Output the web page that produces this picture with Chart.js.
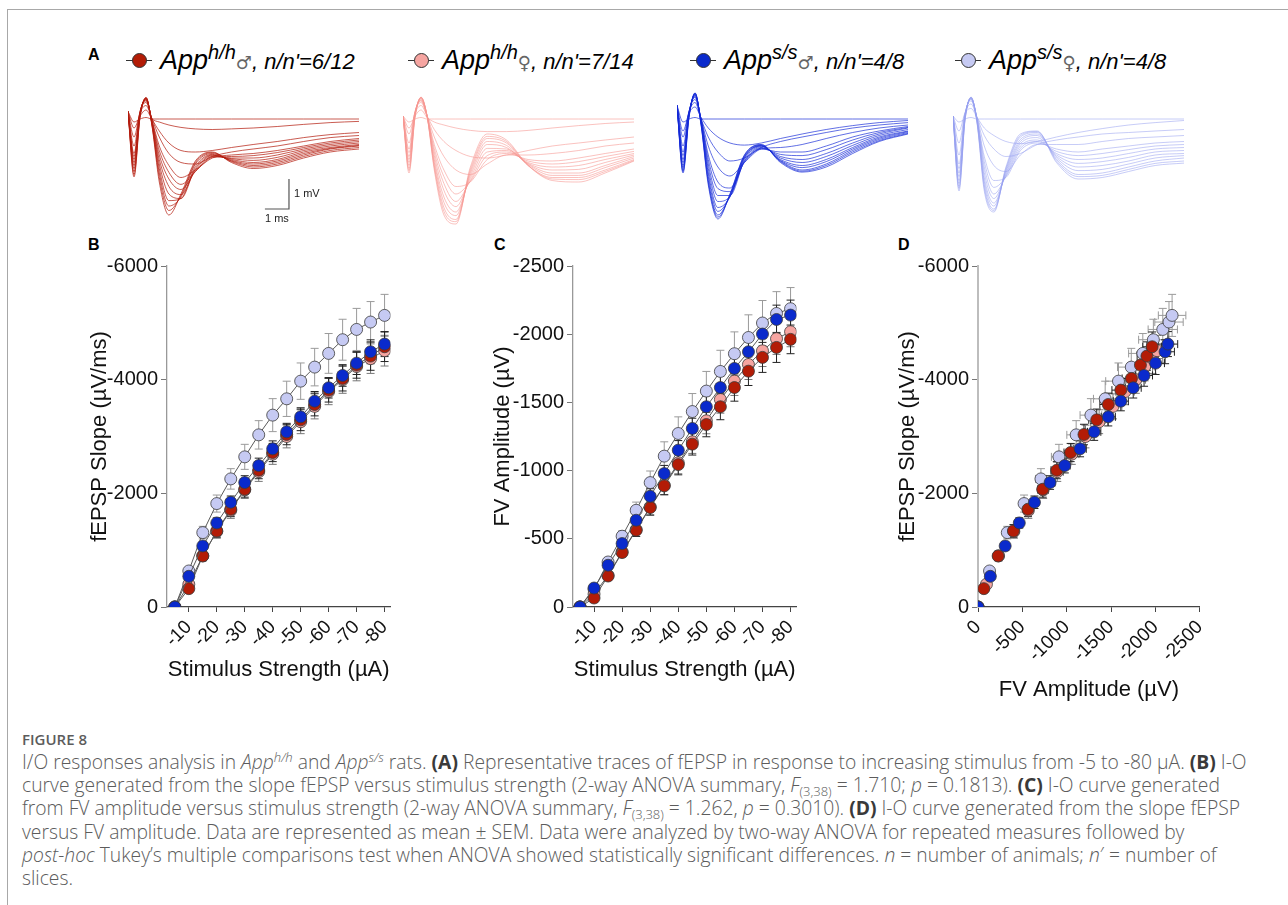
<!DOCTYPE html>
<html>
<head>
<meta charset="utf-8">
<title>Figure 8 - I/O responses in App rats</title>
<script src="https://cdn.jsdelivr.net/npm/chart.js"></script>
<style>
  body { margin: 0; background: #fff; width: 1288px; height: 905px; position: relative; overflow: hidden;
         font-family: "Liberation Sans", Arial, sans-serif; }
  .frame { position: absolute; left: 7px; top: 9px; right: -2px; bottom: -2px; border-top: 1px solid #a8a8a8; border-left: 1px solid #a8a8a8; }
  canvas { position: absolute; }
  .letter { position: absolute; font-weight: bold; font-size: 16px; color: #000; line-height: 16px; }
  .leg { position: absolute; top: 44px; height: 34px; white-space: nowrap; }
  .leg .ln { position: absolute; left: 0; top: 16px; width: 26px; height: 1px; background: #333; }
  .leg .dot { position: absolute; left: 6px; top: 9px; width: 13px; height: 13px; border-radius: 50%; border: 1px solid #333; }
  .leg .txt { position: absolute; left: 34px; top: 3px; line-height: 27px; font-style: italic; color: #000; }
  .leg .app { font-size: 27px; }
  .leg .sup { font-size: 20px; position: relative; top: -10px; }
  .leg .sex { font-family: "DejaVu Sans", sans-serif; font-style: normal; font-size: 18px; color: #666; }
  .leg .nn { font-size: 22px; }
  .caption { position: absolute; left: 22px; top: 728px; font-family: "Open Sans", "Noto Sans", sans-serif; color: #5c5c5c; }
  .caption .head { font-size: 15px; font-weight: 600; color: #5c5c5c; line-height: 22px; }
  .caption .body { font-size: 19.3px; line-height: 23.2px; white-space: nowrap; font-weight: 300; }
  .caption b { font-weight: 700; color: #3a3a3a; }
  .caption sub { font-size: 13px; vertical-align: -4px; line-height: 0; }
  .caption sup { font-size: 13px; vertical-align: 7px; line-height: 0; }
</style>
</head>
<body>
<div class="frame"></div>

<div class="letter" style="left:88px; top:47px;">A</div>
<div class="letter" style="left:88px; top:237px;">B</div>
<div class="letter" style="left:494px; top:237px;">C</div>
<div class="letter" style="left:898px; top:237px;">D</div>

<!-- legend row -->
<div class="leg" style="left:126px;"><span class="ln"></span><span class="dot" style="background:#b31c06;"></span>
  <span class="txt"><span class="app">App</span><span class="sup">h/h</span><span class="sex">♂</span><span class="nn">, n/n'=6/12</span></span></div>
<div class="leg" style="left:408px;"><span class="ln"></span><span class="dot" style="background:#f6a5a1;"></span>
  <span class="txt"><span class="app">App</span><span class="sup">h/h</span><span class="sex">♀</span><span class="nn">, n/n'=7/14</span></span></div>
<div class="leg" style="left:690px;"><span class="ln"></span><span class="dot" style="background:#0a2acc;"></span>
  <span class="txt"><span class="app">App</span><span class="sup">s/s</span><span class="sex">♂</span><span class="nn">, n/n'=4/8</span></span></div>
<div class="leg" style="left:955px;"><span class="ln"></span><span class="dot" style="background:#c6caf3;"></span>
  <span class="txt"><span class="app">App</span><span class="sup">s/s</span><span class="sex">♀</span><span class="nn">, n/n'=4/8</span></span></div>

<!-- representative traces -->
<canvas id="traceHHm" width="231" height="138" style="left:128px; top:89px;"></canvas>
<canvas id="traceHHf" width="231" height="138" style="left:403px; top:89px;"></canvas>
<canvas id="traceSSm" width="231" height="138" style="left:677px; top:89px;"></canvas>
<canvas id="traceSSf" width="231" height="138" style="left:953px; top:89px;"></canvas>

<!-- I-O curves -->
<canvas id="chartB" width="338" height="445" style="left:67px; top:250px;"></canvas>
<canvas id="chartC" width="338" height="445" style="left:473px; top:250px;"></canvas>
<canvas id="chartD" width="342" height="465" style="left:878px; top:250px;"></canvas>

<div class="caption">
  <div class="head">FIGURE 8</div>
  <div class="body">
I/O responses analysis in <i>App</i><sup><i>h/h</i></sup> and <i>App</i><sup><i>s/s</i></sup> rats. <b>(A)</b> Representative traces of fEPSP in response to increasing stimulus from -5 to -80 µA. <b>(B)</b> I-O<br>
curve generated from the slope fEPSP versus stimulus strength (2-way ANOVA summary, <i>F</i><sub>(3,38)</sub> = 1.710; <i>p</i> = 0.1813). <b>(C)</b> I-O curve generated<br>
from FV amplitude versus stimulus strength (2-way ANOVA summary, <i>F</i><sub>(3,38)</sub> = 1.262, <i>p</i> = 0.3010). <b>(D)</b> I-O curve generated from the slope fEPSP<br>
versus FV amplitude. Data are represented as mean ± SEM. Data were analyzed by two-way ANOVA for repeated measures followed by<br>
<i>post-hoc</i> Tukey’s multiple comparisons test when ANOVA showed statistically significant differences. <i>n</i> = number of animals; <i>n</i>′ = number of<br>
slices.
  </div>
</div>

<script>
// stimulus strengths (µA) and tick labels
const stimulus = [-5, -10, -15, -20, -25, -30, -35, -40, -45, -50, -55, -60, -65, -70, -75, -80];
const stimTicks = [-10, -20, -30, -40, -50, -60, -70, -80];
const slopeTicks = [0, -2000, -4000, -6000];
const fvTicks = [0, -500, -1000, -1500, -2000, -2500];

// fEPSP slope (µV/ms), mean and SEM
const slopeHHm = [0, -323, -898, -1338, -1720, -2072, -2407, -2718, -3035, -3293, -3563, -3816, -4021, -4256, -4415, -4579];
const slopeHHf = [0, -400, -900, -1330, -1700, -2060, -2380, -2690, -3000, -3260, -3530, -3790, -4000, -4230, -4370, -4510];
const slopeSSm = [0, -540, -1074, -1479, -1843, -2190, -2489, -2783, -3082, -3346, -3622, -3857, -4074, -4291, -4491, -4626];
const slopeSSf = [0, -634, -1309, -1820, -2254, -2642, -3029, -3376, -3663, -3974, -4221, -4462, -4703, -4884, -5014, -5131];
const slopeHHmSem = [0, 50, 80, 110, 130, 140, 150, 160, 180, 190, 200, 210, 220, 230, 250, 260];
const slopeHHfSem = [0, 60, 90, 120, 140, 150, 170, 180, 200, 210, 220, 230, 240, 250, 260, 270];
const slopeSSmSem = [0, 40, 70, 90, 110, 120, 130, 140, 150, 160, 170, 180, 190, 200, 210, 220];
const slopeSSfSem = [0, 60, 110, 150, 180, 220, 250, 290, 310, 320, 330, 350, 360, 370, 360, 370];

// FV amplitude (µV), mean and SEM
const fvHHm = [0, -66, -227, -399, -563, -729, -888, -1044, -1194, -1338, -1468, -1609, -1729, -1830, -1903, -1962];
const fvHHf = [0, -95, -232, -404, -567, -734, -893, -1057, -1211, -1365, -1521, -1656, -1778, -1878, -1967, -2018];
const fvSSm = [0, -139, -306, -465, -636, -812, -978, -1150, -1309, -1468, -1609, -1749, -1871, -2001, -2108, -2140];
const fvSSf = [0, -130, -330, -519, -709, -912, -1106, -1272, -1433, -1583, -1727, -1857, -1976, -2082, -2152, -2187];
const fvHHmSem = [0, 10, 20, 30, 45, 55, 65, 75, 80, 90, 95, 100, 105, 110, 110, 105];
const fvHHfSem = [0, 12, 22, 35, 50, 60, 70, 80, 85, 95, 100, 105, 110, 115, 115, 110];
const fvSSmSem = [0, 15, 25, 35, 45, 55, 60, 70, 75, 80, 85, 90, 95, 100, 105, 110];
const fvSSfSem = [0, 15, 30, 40, 60, 85, 105, 122, 132, 144, 155, 160, 166, 165, 160, 155];

// representative traces: time (ms) and voltage (mV), one row per stimulus step
const traceTime = [0, 0.25, 0.5, 0.75, 1.0, 1.3, 1.7, 2.2, 2.8, 3.5, 4.3, 5.2, 6.2, 7.3, 8.4, 9.6];
const tracesHHm = [
  [0.25, -0.1, 0, 0.05, 0, 0, 0, 0, 0, 0, 0, 0, 0, 0, 0, 0],
  [0.25, -0.3, 0.1, 0.3, 0, -0.1, -0.2, -0.28, -0.33, -0.35, -0.33, -0.3, -0.25, -0.18, -0.12, -0.08],
  [0.25, -0.6, 0.2, 0.45, 0, -0.4, -0.8, -1.05, -1.1, -1.05, -0.95, -0.85, -0.75, -0.62, -0.52, -0.45],
  [0.25, -0.9, 0.25, 0.55, 0, -0.6, -1.15, -1.45, -1.5, -1.25, -1.1, -1.0, -0.9, -0.75, -0.62, -0.55],
  [0.25, -1.15, 0.25, 0.6, -0.05, -0.9, -1.55, -1.95, -1.7, -1.3, -1.2, -1.15, -1.05, -0.9, -0.75, -0.65],
  [0.25, -1.25, 0.22, 0.63, -0.08, -1.05, -1.78, -2.18, -1.75, -1.28, -1.25, -1.22, -1.12, -0.95, -0.8, -0.7],
  [0.25, -1.35, 0.2, 0.65, -0.1, -1.2, -2.0, -2.35, -1.75, -1.25, -1.3, -1.3, -1.2, -1.0, -0.85, -0.75],
  [0.25, -1.45, 0.18, 0.66, -0.12, -1.35, -2.25, -2.52, -1.7, -1.22, -1.32, -1.38, -1.28, -1.05, -0.9, -0.8],
  [0.25, -1.55, 0.15, 0.68, -0.15, -1.5, -2.5, -2.65, -1.65, -1.2, -1.35, -1.45, -1.35, -1.1, -0.95, -0.85],
  [0.25, -1.65, 0.12, 0.69, -0.18, -1.65, -2.72, -2.65, -1.58, -1.18, -1.38, -1.5, -1.4, -1.15, -0.98, -0.88],
  [0.25, -1.75, 0.1, 0.7, -0.2, -1.8, -2.9, -2.6, -1.5, -1.15, -1.4, -1.55, -1.45, -1.2, -1.0, -0.9],
  [0.25, -1.85, 0.08, 0.71, -0.22, -1.95, -3.05, -2.55, -1.45, -1.12, -1.42, -1.6, -1.5, -1.25, -1.05, -0.95],
  [0.25, -1.93, 0.05, 0.72, -0.25, -2.1, -3.2, -2.5, -1.4, -1.1, -1.45, -1.65, -1.55, -1.3, -1.1, -1.0]
];
const tracesHHf = [
  [0.1, -0.1, 0, 0.05, 0, 0, 0, 0, 0, 0, 0, 0, 0, 0, 0, 0],
  [0.1, -0.3, 0.1, 0.3, 0.05, -0.1, -0.2, -0.3, -0.38, -0.42, -0.42, -0.38, -0.3, -0.22, -0.15, -0.1],
  [0.1, -0.5, 0.2, 0.45, 0.1, -0.35, -0.75, -1.05, -1.25, -1.3, -1.2, -1.05, -0.9, -0.8, -0.7, -0.6],
  [0.1, -0.8, 0.25, 0.55, 0.1, -0.6, -1.25, -1.7, -1.85, -1.5, -1.2, -1.2, -1.15, -1.05, -0.9, -0.8],
  [0.1, -1.0, 0.25, 0.6, 0.1, -0.85, -1.7, -2.25, -2.1, -1.35, -1.15, -1.35, -1.4, -1.3, -1.15, -1.0],
  [0.1, -1.12, 0.22, 0.62, 0.1, -0.98, -1.92, -2.5, -2.08, -1.22, -1.1, -1.4, -1.5, -1.42, -1.25, -1.08],
  [0.1, -1.25, 0.2, 0.65, 0.1, -1.1, -2.15, -2.75, -2.05, -1.1, -1.05, -1.45, -1.6, -1.55, -1.35, -1.15],
  [0.1, -1.35, 0.18, 0.68, 0.1, -1.22, -2.38, -2.92, -1.98, -0.98, -1.0, -1.48, -1.7, -1.68, -1.45, -1.2],
  [0.1, -1.45, 0.15, 0.7, 0.1, -1.35, -2.6, -3.1, -1.9, -0.85, -0.95, -1.5, -1.8, -1.8, -1.55, -1.25],
  [0.1, -1.55, 0.12, 0.71, 0.1, -1.45, -2.78, -3.22, -1.82, -0.75, -0.88, -1.52, -1.88, -1.88, -1.62, -1.3],
  [0.1, -1.65, 0.1, 0.72, 0.1, -1.55, -2.95, -3.35, -1.75, -0.65, -0.8, -1.55, -1.95, -1.95, -1.7, -1.35],
  [0.1, -1.72, 0.08, 0.72, 0.1, -1.62, -3.08, -3.42, -1.68, -0.58, -0.75, -1.55, -2.0, -2.02, -1.75, -1.38],
  [0.1, -1.8, 0.05, 0.73, 0.1, -1.7, -3.2, -3.5, -1.6, -0.5, -0.7, -1.55, -2.05, -2.1, -1.8, -1.4]
];
const tracesSSm = [
  [0.45, -0.1, 0, 0.05, 0, 0, 0, 0, 0, 0, 0, 0, 0, 0, 0, 0],
  [0.45, -0.4, 0.2, 0.4, 0.05, -0.3, -0.6, -0.8, -0.87, -0.8, -0.65, -0.5, -0.35, -0.22, -0.12, -0.05],
  [0.45, -0.6, 0.25, 0.55, 0, -0.6, -1.1, -1.4, -1.3, -0.95, -0.75, -0.6, -0.45, -0.3, -0.2, -0.12],
  [0.45, -0.9, 0.25, 0.65, 0, -0.9, -1.6, -1.9, -1.45, -1.0, -0.95, -0.85, -0.65, -0.45, -0.3, -0.2],
  [0.45, -1.1, 0.25, 0.72, 0, -1.2, -2.1, -2.3, -1.45, -1.0, -1.1, -1.1, -0.9, -0.6, -0.4, -0.25],
  [0.45, -1.22, 0.22, 0.75, -0.02, -1.35, -2.32, -2.42, -1.42, -0.98, -1.18, -1.22, -1.02, -0.7, -0.45, -0.28],
  [0.45, -1.35, 0.2, 0.78, -0.05, -1.5, -2.55, -2.55, -1.4, -0.95, -1.25, -1.35, -1.15, -0.8, -0.5, -0.3],
  [0.45, -1.45, 0.18, 0.8, -0.08, -1.65, -2.75, -2.58, -1.35, -0.92, -1.3, -1.45, -1.25, -0.88, -0.55, -0.35],
  [0.45, -1.55, 0.15, 0.82, -0.1, -1.8, -2.95, -2.6, -1.3, -0.9, -1.35, -1.55, -1.35, -0.95, -0.6, -0.4],
  [0.45, -1.62, 0.12, 0.84, -0.12, -1.92, -3.08, -2.58, -1.28, -0.89, -1.38, -1.62, -1.42, -1.0, -0.64, -0.42],
  [0.45, -1.7, 0.1, 0.85, -0.15, -2.05, -3.2, -2.55, -1.25, -0.88, -1.4, -1.7, -1.5, -1.05, -0.68, -0.45],
  [0.45, -1.75, 0.08, 0.86, -0.18, -2.12, -3.27, -2.52, -1.22, -0.86, -1.42, -1.74, -1.55, -1.1, -0.72, -0.48],
  [0.45, -1.8, 0.05, 0.87, -0.2, -2.2, -3.33, -2.5, -1.2, -0.85, -1.45, -1.77, -1.6, -1.15, -0.75, -0.5]
];
const tracesSSf = [
  [0.1, -0.1, 0, 0.05, 0, 0, 0, 0, 0, 0, 0, 0, 0, 0, 0, 0],
  [0.1, -0.4, 0.2, 0.35, 0.05, -0.3, -0.55, -0.75, -0.82, -0.75, -0.6, -0.45, -0.32, -0.2, -0.12, -0.05],
  [0.1, -0.8, 0.2, 0.5, 0.05, -0.55, -1.0, -1.25, -1.15, -0.85, -0.7, -0.6, -0.5, -0.45, -0.4, -0.35],
  [0.1, -1.2, 0.2, 0.6, 0.05, -0.9, -1.55, -1.75, -1.2, -0.85, -0.85, -0.85, -0.75, -0.65, -0.6, -0.55],
  [0.1, -1.5, 0.15, 0.65, 0, -1.25, -2.05, -1.95, -1.05, -0.8, -1.0, -1.1, -1.0, -0.9, -0.8, -0.75],
  [0.1, -1.65, 0.12, 0.66, 0, -1.42, -2.28, -1.92, -0.98, -0.75, -1.08, -1.22, -1.15, -1.02, -0.9, -0.85],
  [0.1, -1.8, 0.1, 0.68, 0, -1.6, -2.5, -1.9, -0.9, -0.7, -1.15, -1.35, -1.3, -1.15, -1.0, -0.95],
  [0.1, -1.92, 0.08, 0.69, -0.02, -1.78, -2.65, -1.85, -0.82, -0.62, -1.2, -1.48, -1.42, -1.28, -1.1, -1.05],
  [0.1, -2.05, 0.05, 0.7, -0.05, -1.95, -2.8, -1.8, -0.75, -0.55, -1.25, -1.6, -1.55, -1.4, -1.2, -1.15],
  [0.1, -2.15, 0.02, 0.71, -0.08, -2.08, -2.9, -1.75, -0.68, -0.5, -1.3, -1.72, -1.68, -1.5, -1.3, -1.22],
  [0.1, -2.25, 0, 0.72, -0.1, -2.2, -3.0, -1.7, -0.6, -0.45, -1.35, -1.85, -1.8, -1.6, -1.4, -1.3],
  [0.1, -2.32, -0.02, 0.72, -0.12, -2.3, -3.05, -1.65, -0.55, -0.42, -1.4, -1.92, -1.88, -1.68, -1.48, -1.4],
  [0.1, -2.4, -0.05, 0.73, -0.15, -2.4, -3.1, -1.6, -0.5, -0.4, -1.45, -2.0, -1.95, -1.75, -1.55, -1.47]
];

const FONT = '"Liberation Sans", Arial, sans-serif';

// groups, listed top-most first (Chart.js draws dataset 0 last)
const groups = [
  { label: 'App s/s male',   slope: slopeSSm, slopeSem: slopeSSmSem, fv: fvSSm, fvSem: fvSSmSem, fill: '#0a2acc', err: '#222' },
  { label: 'App h/h male',   slope: slopeHHm, slopeSem: slopeHHmSem, fv: fvHHm, fvSem: fvHHmSem, fill: '#b31c06', err: '#222' },
  { label: 'App h/h female', slope: slopeHHf, slopeSem: slopeHHfSem, fv: fvHHf, fvSem: fvHHfSem, fill: '#f6a5a1', err: '#777' },
  { label: 'App s/s female', slope: slopeSSf, slopeSem: slopeSSfSem, fv: fvSSf, fvSem: fvSSfSem, fill: '#c6caf3', err: '#9a9a9a' }
];

// mean +/- SEM whiskers, drawn under the markers
const errorBars = {
  id: 'errorBars',
  beforeDatasetsDraw(chart) {
    const {ctx, scales: {x, y}} = chart;
    const cap = 4;
    ctx.save();
    ctx.lineWidth = 1;
    chart.data.datasets.slice().reverse().forEach(ds => {
      ctx.strokeStyle = ds.errColor;
      ds.data.forEach((p, j) => {
        const px = x.getPixelForValue(p.x), py = y.getPixelForValue(p.y);
        ctx.beginPath();
        if (ds.errY && ds.errY[j]) {
          const a = y.getPixelForValue(p.y - ds.errY[j]), b = y.getPixelForValue(p.y + ds.errY[j]);
          ctx.moveTo(px, a); ctx.lineTo(px, b);
          ctx.moveTo(px - cap, a); ctx.lineTo(px + cap, a);
          ctx.moveTo(px - cap, b); ctx.lineTo(px + cap, b);
        }
        if (ds.errX && ds.errX[j]) {
          const a = x.getPixelForValue(p.x - ds.errX[j]), b = x.getPixelForValue(p.x + ds.errX[j]);
          ctx.moveTo(a, py); ctx.lineTo(b, py);
          ctx.moveTo(a, py - cap); ctx.lineTo(a, py + cap);
          ctx.moveTo(b, py - cap); ctx.lineTo(b, py + cap);
        }
        ctx.stroke();
      });
    });
    ctx.restore();
  }
};

// 1 ms / 1 mV calibration bar
const scaleBar = {
  id: 'scaleBar',
  afterDraw(chart, args, opts) {
    const {ctx, scales: {x, y}} = chart;
    const x0 = x.getPixelForValue(opts.t0), x1 = x.getPixelForValue(opts.t0 + 1);
    const y0 = y.getPixelForValue(opts.v0), y1 = y.getPixelForValue(opts.v0 + 1);
    ctx.save();
    ctx.strokeStyle = '#555';
    ctx.lineWidth = 1.2;
    ctx.beginPath();
    ctx.moveTo(x0, y0); ctx.lineTo(x1, y0); ctx.lineTo(x1, y1);
    ctx.stroke();
    ctx.fillStyle = '#222';
    ctx.font = '11px ' + FONT;
    ctx.textAlign = 'left'; ctx.textBaseline = 'middle';
    ctx.fillText('1 mV', x1 + 5, (y0 + y1) / 2);
    ctx.textAlign = 'center'; ctx.textBaseline = 'top';
    ctx.fillText('1 ms', (x0 + x1) / 2, y0 + 4);
    ctx.restore();
  }
};

function traceChart(id, traces, color, withBar) {
  new Chart(document.getElementById(id), {
    type: 'line',
    data: {
      datasets: traces.map(tr => ({
        data: traceTime.map((t, i) => ({x: t, y: tr[i]})),
        borderColor: color, borderWidth: 0.9, pointRadius: 0,
        cubicInterpolationMode: 'monotone', fill: false
      }))
    },
    plugins: withBar ? [scaleBar] : [],
    options: {
      responsive: false, animation: false, devicePixelRatio: 1,
      layout: {padding: 0},
      plugins: {legend: {display: false}, tooltip: {enabled: false}, scaleBar: {t0: 5.69, v0: -3.0}},
      scales: {
        x: {type: 'linear', min: 0, max: 9.6, display: false},
        y: {type: 'linear', min: -3.6, max: 1.0, display: false}
      }
    }
  });
}

traceChart('traceHHm', tracesHHm, 'rgba(180,28,14,0.8)', true);
traceChart('traceHHf', tracesHHf, 'rgba(246,150,146,0.65)', false);
traceChart('traceSSm', tracesSSm, 'rgba(20,40,215,0.75)', false);
traceChart('traceSSf', tracesSSf, 'rgba(150,160,240,0.6)', false);

function ioDataset(g, xs, ys, xSem, ySem, joined) {
  return {
    label: g.label,
    data: xs.map((v, i) => ({x: v, y: ys[i]})),
    errX: xSem, errY: ySem, errColor: g.err,
    showLine: joined,
    borderColor: '#5a5a5a', borderWidth: 1,
    backgroundColor: g.fill,
    pointBackgroundColor: g.fill,
    pointBorderColor: '#3a3a3a',
    pointBorderWidth: 0.8,
    pointRadius: 6, pointHoverRadius: 6
  };
}

function ioChart(id, datasets, ax) {
  new Chart(document.getElementById(id), {
    type: 'scatter',
    data: {datasets},
    plugins: [errorBars],
    options: {
      responsive: false, animation: false, devicePixelRatio: 1,
      layout: {padding: {top: 16, right: ax.padRight, left: 0, bottom: 0}},
      plugins: {legend: {display: false}, tooltip: {enabled: false}},
      scales: {
        x: {
          type: 'linear', min: ax.xMin, max: ax.xMax, reverse: true,
          afterBuildTicks: s => { s.ticks = ax.xTicks.map(v => ({value: v})); },
          afterFit: s => { s.height = ax.xHeight; },
          ticks: {autoSkip: false, minRotation: 45, maxRotation: 45, padding: 4, color: '#111',
                  font: {family: FONT, size: 19}, callback: v => String(v)},
          grid: {drawOnChartArea: false, drawTicks: true, tickLength: 5, color: '#444'},
          border: {display: true, color: '#444', width: 1.3, dash: [1.5, 1.5]},
          title: {display: true, text: ax.xTitle, color: '#111', font: {family: FONT, size: 22},
                  padding: {top: 0, bottom: 12}}
        },
        y: {
          type: 'linear', min: ax.yMin, max: 0, reverse: true,
          afterBuildTicks: s => { s.ticks = ax.yTicks.map(v => ({value: v})); },
          afterFit: s => { s.width = 100; },
          ticks: {padding: 3, color: '#111', font: {family: FONT, size: 20}, callback: v => String(v)},
          grid: {drawOnChartArea: false, drawTicks: true, tickLength: 6, color: '#777'},
          border: {display: true, color: ax.yAxisColor, width: ax.yAxisWidth},
          title: {display: true, text: ax.yTitle, color: '#111', font: {family: FONT, size: 22},
                  padding: {top: ax.yTitlePad, bottom: 0}}
        }
      }
    }
  });
}

ioChart('chartB', groups.map(g => ioDataset(g, stimulus, g.slope, null, g.slopeSem, true)), {
  xMin: -82.1, xMax: -2.2, xTicks: stimTicks, xHeight: 88, xTitle: 'Stimulus Strength (µA)',
  yMin: -6000, yTicks: slopeTicks, yTitle: 'fEPSP Slope (µV/ms)', yTitlePad: 20,
  yAxisColor: '#999', yAxisWidth: 1.3, padRight: 12
});
ioChart('chartC', groups.map(g => ioDataset(g, stimulus, g.fv, null, g.fvSem, true)), {
  xMin: -82.1, xMax: -2.5, xTicks: stimTicks, xHeight: 88, xTitle: 'Stimulus Strength (µA)',
  yMin: -2500, yTicks: fvTicks, yTitle: 'FV Amplitude (µV)', yTitlePad: 17,
  yAxisColor: '#999', yAxisWidth: 1.3, padRight: 12
});
ioChart('chartD', groups.map(g => ioDataset(g, g.fv, g.slope, g.fvSem, g.slopeSem, false)), {
  xMin: -2500, xMax: 0, xTicks: fvTicks, xHeight: 108, xTitle: 'FV Amplitude (µV)',
  yMin: -6000, yTicks: slopeTicks, yTitle: 'fEPSP Slope (µV/ms)', yTitlePad: 17,
  yAxisColor: '#bdbdbd', yAxisWidth: 2, padRight: 16
});
</script>
</body>
</html>
